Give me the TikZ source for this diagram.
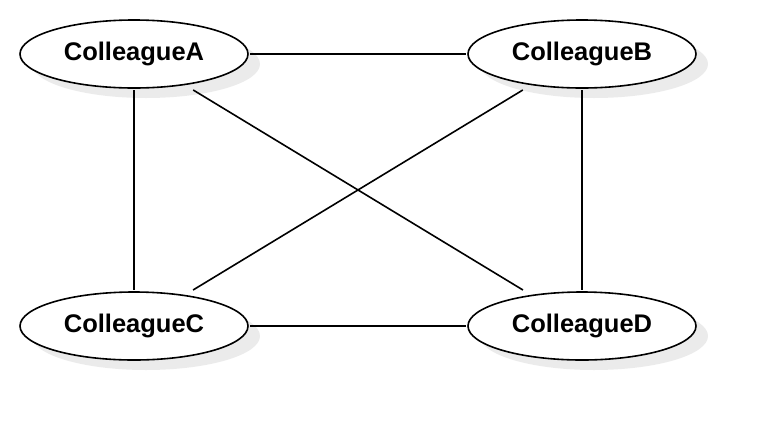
\documentclass[tikz,border=0pt]{standalone}
\usepackage{fontspec}
\setmainfont{Liberation Sans}
\usetikzlibrary{backgrounds}
\definecolor{shade}{HTML}{EBEBEB}
\tikzset{
  x=1pt,y=-1pt,
  colleague/.style={rectangle,minimum width=228pt,minimum height=68pt,inner sep=0pt,outer sep=2pt,
    font=\fontsize{25.5}{30}\selectfont\bfseries},
  link/.style={line width=1.6pt},
  oval/.style={draw,line width=1.6pt,fill=white},
  ovalshadow/.style={fill=shade}
}
\begin{document}
\begin{tikzpicture}
\useasboundingbox (0,0) rectangle (776,440);
\node[colleague] (A) at (134,54) {ColleagueA};
\node[colleague] (B) at (582,54) {ColleagueB};
\node[colleague] (C) at (134,326) {ColleagueC};
\node[colleague] (D) at (582,326) {ColleagueD};
\begin{scope}[on background layer]
  \foreach \n in {A,B,C,D}{
    \fill[ovalshadow] ([shift={(12,10)}]\n.center) ellipse [x radius=114, y radius=34];
  }
  \foreach \n in {A,B,C,D}{
    \draw[oval] (\n.center) ellipse [x radius=114, y radius=34];
  }
\end{scope}
\draw[link] (A) -- (B);
\draw[link] (A) -- (C);
\draw[link] (A) -- (D);
\draw[link] (B) -- (C);
\draw[link] (B) -- (D);
\draw[link] (C) -- (D);
\end{tikzpicture}
\end{document}
